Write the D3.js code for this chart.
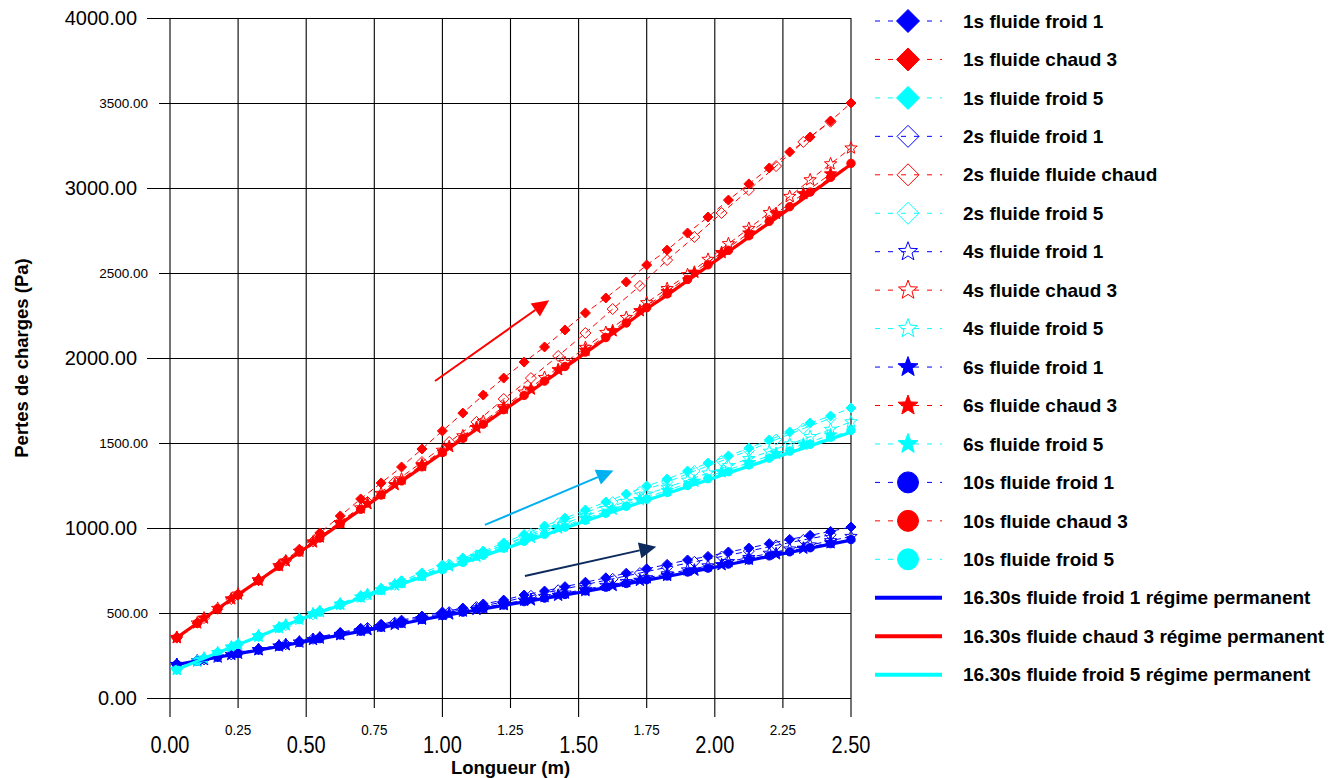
<!DOCTYPE html>
<html><head><meta charset="utf-8">
<script src="https://cdn.jsdelivr.net/npm/d3@7"></script>
<style>body{margin:0;background:#fff}svg{display:block;font-family:"Liberation Sans",Arial,sans-serif}</style>
</head><body><svg id="c" width="1342" height="778"></svg>
<script>
// ---------- data ----------
const xGridA = [0.025,0.1,0.175,0.25,0.325,0.4,0.475,0.55,0.625,0.7,0.775,0.85,0.925,1.0,1.075,1.15,1.225,1.3,1.375,1.45,1.525,1.6,1.675,1.75,1.825,1.9,1.975,2.05,2.125,2.2,2.275,2.35,2.425,2.5];
const xGridB = [0.025,0.125,0.225,0.325,0.425,0.525,0.625,0.725,0.825,0.925,1.025,1.125,1.225,1.325,1.425,1.525,1.625,1.725,1.825,1.925,2.025,2.125,2.225,2.325,2.425];

const s1_froid1 = [197,220,243,265,288,311,335,360,385,410,434,458,482,506,529,553,576,606,629,655,681,707,734,760,786,812,833,859,882,908,933,957,980,1006];
const s1_chaud3 = [356,440,522,605,690,780,875,971,1071,1171,1265,1359,1465,1571,1676,1782,1882,1976,2065,2165,2265,2353,2447,2547,2635,2735,2829,2929,3024,3118,3212,3300,3394,3500];
const s1_froid5 = [168,218,268,317,366,415,467,513,557,601,645,690,736,782,824,864,912,962,1012,1058,1106,1153,1200,1247,1288,1335,1382,1424,1470,1518,1565,1618,1659,1706];

const s2_froid1 = [197,227,256,286,316,348,380,412,443,474,505,535,565,601,634,667,701,735,769,801,832,864,898,930,960];
const s2_chaud  = [355,470,582,695,808,920,1037,1153,1271,1388,1506,1624,1759,1882,2012,2147,2288,2424,2576,2712,2853,2988,3129,3271,3390];
const s2_froid5 = [168,233,299,363,428,492,550,608,666,726,785,839,899,965,1028,1090,1152,1213,1270,1335,1395,1455,1520,1585,1645];

const s4_froid1 = [197,219,241,263,284,306,329,352,374,397,420,443,466,490,511,532,554,575,596,617,639,662,684,707,730,753,777,802,826,851,876,900,925,950];
const s4_chaud3 = [355,441,527,611,694,778,863,947,1032,1118,1203,1288,1372,1457,1542,1627,1713,1799,1885,1972,2062,2150,2238,2325,2408,2490,2580,2672,2762,2855,2950,3048,3142,3235];
const s4_froid5 = [168,217,267,316,364,413,463,508,551,594,637,679,723,768,813,856,899,942,985,1028,1071,1114,1156,1199,1239,1281,1323,1366,1408,1451,1494,1537,1580,1624];

const s6_froid1 = [197,226,256,284,313,344,373,402,433,464,494,521,549,577,604,632,662,692,721,752,784,816,848,881,913];
const s6_chaud3 = [356,470,583,694,806,918,1031,1143,1255,1367,1479,1591,1704,1817,1931,2045,2160,2278,2390,2504,2620,2735,2850,2966,3083];
const s6_froid5 = [168,234,300,365,430,495,552,609,665,721,777,833,889,945,1000,1056,1111,1167,1221,1275,1330,1384,1438,1493,1547];

const s10_froid1 = [197,218,240,262,283,304,327,349,371,393,416,439,462,485,505,526,547,567,588,609,630,652,674,696,718,741,764,788,812,836,860,884,908,932];
const s10_chaud3 = [355,440,526,609,691,774,858,941,1025,1110,1194,1277,1360,1444,1528,1611,1696,1780,1864,1950,2035,2120,2206,2296,2377,2462,2548,2633,2719,2804,2890,2976,3063,3145];
const s10_froid5 = [168,217,266,315,363,411,461,505,548,590,632,673,715,756,798,840,881,922,963,1005,1046,1087,1128,1169,1209,1250,1290,1331,1371,1411,1452,1492,1533,1575];

const perm_froid1 = [197,218,240,261,282,303,326,348,370,392,414,437,460,483,503,524,545,565,586,606,627,649,671,693,715,738,761,785,809,833,857,881,905,929];
const perm_chaud3 = [355,440,525,608,690,773,857,940,1024,1108,1192,1275,1358,1441,1525,1608,1692,1776,1860,1945,2030,2115,2200,2290,2370,2455,2540,2625,2710,2795,2880,2965,3052,3140];
const perm_froid5 = [168,217,266,314,362,410,460,504,546,588,630,670,712,753,795,836,877,918,959,1000,1041,1082,1122,1163,1203,1243,1283,1323,1363,1403,1443,1483,1523,1563];

const legendLabels = ["1s fluide froid 1","1s fluide chaud 3","1s fluide froid 5","2s fluide froid 1","2s fluide fluide chaud","2s fluide froid 5","4s fluide froid 1","4s fluide chaud 3","4s fluide froid 5","6s fluide froid 1","6s fluide chaud 3","6s fluide froid 5","10s fluide froid 1","10s fluide chaud 3","10s fluide froid 5","16.30s fluide froid 1 régime permanent","16.30s fluide chaud 3 régime permanent","16.30s fluide froid 5 régime permanent"];

const xTicks = [0,0.25,0.5,0.75,1.0,1.25,1.5,1.75,2.0,2.25,2.5];
const xTickLabels = ["0.00","0.25","0.50","0.75","1.00","1.25","1.50","1.75","2.00","2.25","2.50"];
const yTicks = [0,500,1000,1500,2000,2500,3000,3500,4000];
const yTickLabels = ["0.00","500.00","1000.00","1500.00","2000.00","2500.00","3000.00","3500.00","4000.00"];
const xTitle = "Longueur (m)";
const yTitle = "Pertes de charges (Pa)";

// annotation arrows (data units)
const arrowStart = [[0.973,1865],[1.156,1018],[1.303,718]];
const arrowEnd   = [[1.392,2340],[1.628,1338],[1.785,890]];
const arrowColors = ["#ff0000","#00b0f0","#0c2a5e"];

// ---------- build ----------
const colors = {f1:"#0000ff", c3:"#ff0000", f5:"#00ffff"};
const seriesYs = [s1_froid1,s1_chaud3,s1_froid5,s2_froid1,s2_chaud,s2_froid5,s4_froid1,s4_chaud3,s4_froid5,s6_froid1,s6_chaud3,s6_froid5,s10_froid1,s10_chaud3,s10_froid5,perm_froid1,perm_chaud3,perm_froid5];
const grids = [xGridA,xGridB,xGridA,xGridB,xGridA,xGridA];
const markers = ["diamond","odiamond","ostar","star","circle","none"];
const cKeys = ["f1","c3","f5"];
const series = seriesYs.map((ys,i)=>{
  const g = Math.floor(i/3);
  return {label:legendLabels[i], xs:grids[g], ys, color:colors[cKeys[i%3]], marker:markers[g], perm:g===5};
});

const svg = d3.select("#c");
const x = d3.scaleLinear().domain([0,2.5]).range([170,851]);
const y = d3.scaleLinear().domain([0,4000]).range([698,18]);

// grid + ticks
const gGrid = svg.append("g");
xTicks.forEach((t,i)=>{
  const major = i%2===0;
  gGrid.append("line").attr("x1",x(t)).attr("x2",x(t))
    .attr("y1",y(4000)).attr("y2",y(0)+(major?19:10))
    .attr("stroke", "#000").attr("stroke-width",1.1);
});
yTicks.forEach((t,i)=>{
  const major = i%2===0;
  gGrid.append("line").attr("y1",Math.round(y(t))+0.5).attr("y2",Math.round(y(t))+0.5)
    .attr("x1",x(0)-(major?23:11)).attr("x2",x(2.5))
    .attr("stroke","#000").attr("stroke-width",1).attr("shape-rendering","crispEdges");
});
// tick labels
xTicks.forEach((t,i)=>{
  const major = i%2===0;
  svg.append("text").attr("transform",`translate(${x(t)},${major?753:735}) scale(1,${major?1.15:1.1})`)
    .attr("text-anchor","middle").attr("font-size", major?20:13.5)
    .attr("fill","#000").text(xTickLabels[i]);
});
yTicks.forEach((t,i)=>{
  const major = i%2===0;
  svg.append("text").attr("x", major?137:148).attr("y",y(t)).attr("dy","0.35em")
    .attr("text-anchor","end").attr("font-size", major?20:13.5)
    .attr("fill","#000").text(yTickLabels[i]);
});
svg.append("text").attr("x",(x(0)+x(2.5))/2).attr("y",774).attr("text-anchor","middle")
  .attr("font-size",18.5).attr("font-weight","bold").text(xTitle);
svg.append("text").attr("transform",`translate(28,${(y(0)+y(4000))/2}) rotate(-90)`)
  .attr("text-anchor","middle").attr("font-size",18.5).attr("font-weight","bold").text(yTitle);

// marker paths
function markerPath(type, s){
  if(type==="diamond"||type==="odiamond") return `M0,${-s}L${s},0L0,${s}L${-s},0Z`;
  if(type==="star"||type==="ostar"){
    const R=s, r=s*0.42; let p="";
    for(let k=0;k<10;k++){
      const a=-Math.PI/2 + k*Math.PI/5; const rr = k%2?r:R;
      p += (k?"L":"M")+(rr*Math.cos(a)).toFixed(2)+","+(rr*Math.sin(a)).toFixed(2);
    }
    return p+"Z";
  }
  if(type==="circle") return `M${s},0A${s},${s} 0 1,1 ${-s},0A${s},${s} 0 1,1 ${s},0Z`;
  return "";
}
function markerSize(type, legend){
  const base = {diamond:5, odiamond:5.5, star:6.5, ostar:6.5, circle:4.2}[type]||0;
  return legend ? {diamond:11.5, odiamond:11, star:10.5, ostar:10, circle:10.5}[type] : base;
}
function drawMarker(g, type, color, cx, cy, legend){
  if(type==="none") return;
  const open = type==="odiamond"||type==="ostar";
  g.append("path").attr("d",markerPath(type, markerSize(type,legend)))
    .attr("transform",`translate(${cx},${cy})`)
    .attr("fill", open?"none":color).attr("stroke",color).attr("stroke-width",1);
}

// series
const line = d3.line().x(d=>x(d[0])).y(d=>y(d[1]));
const gSeries = svg.append("g");
series.forEach(s=>{
  const pts = s.xs.map((xv,i)=>[xv,s.ys[i]]);
  const g = gSeries.append("g");
  g.append("path").datum(pts).attr("d",line).attr("fill","none")
    .attr("stroke",s.color).attr("stroke-width",s.perm?3.2:1)
    .attr("stroke-dasharray",s.perm?null:"6,4");
  pts.forEach(p=>drawMarker(g,s.marker,s.color,x(p[0]),y(p[1]),false));
});

// arrows
arrowStart.forEach((a,i)=>{
  const x1=x(a[0]),y1=y(a[1]),x2=x(arrowEnd[i][0]),y2=y(arrowEnd[i][1]);
  const ang=Math.atan2(y2-y1,x2-x1), L=17, hw=8;
  const bx=x2-L*Math.cos(ang), by=y2-L*Math.sin(ang);
  svg.append("line").attr("x1",x1).attr("y1",y1).attr("x2",bx).attr("y2",by)
    .attr("stroke",arrowColors[i]).attr("stroke-width",2);
  const px=-Math.sin(ang)*hw, py=Math.cos(ang)*hw;
  svg.append("path").attr("d",`M${x2},${y2}L${bx+px},${by+py}L${bx-px},${by-py}Z`).attr("fill",arrowColors[i]);
});

// legend
const gLeg = svg.append("g");
series.forEach((s,i)=>{
  const cy = 21 + i*38.45;
  const g = gLeg.append("g");
  g.append("line").attr("x1",875).attr("x2",942).attr("y1",cy).attr("y2",cy)
    .attr("stroke",s.color).attr("stroke-width",s.perm?4:1)
    .attr("stroke-dasharray",s.perm?null:"5,8");
  drawMarker(g,s.marker,s.color,908,cy,true);
  g.append("text").attr("x",963).attr("y",cy).attr("dy","0.35em").attr("font-size",19)
    .attr("font-weight","bold").attr("fill","#000").text(s.label);
});
</script></body></html>
